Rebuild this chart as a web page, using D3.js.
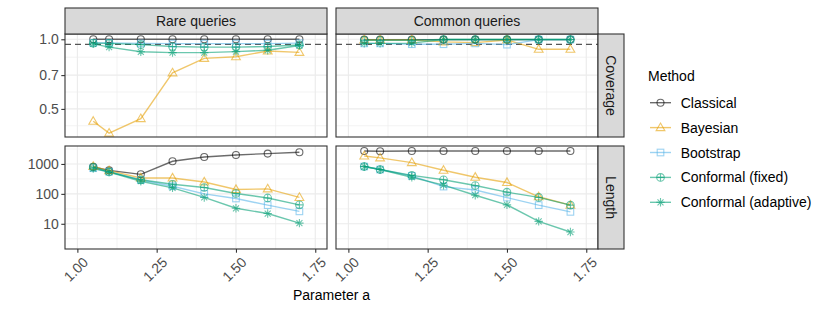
<!DOCTYPE html>
<html>
<head>
<meta charset="utf-8">
<script src="https://cdn.jsdelivr.net/npm/d3@7"></script>
<style>
  body { margin: 0; background: #fff; }
  svg text { font-family: "Liberation Sans", Arial, sans-serif; }
</style>
</head>
<body>
<div id="chart"></div>
<script>
// values
const paramA = [1.05, 1.1, 1.2, 1.3, 1.4, 1.5, 1.6, 1.7];
const methods = ["Classical", "Bayesian", "Bootstrap", "Conformal (fixed)", "Conformal (adaptive)"];
const queryTypes = ["Rare queries", "Common queries"];
const metrics = ["Coverage", "Length"];

// coverage, rare queries
const covRareClassical = [1.0, 1.0, 1.0, 1.0, 1.0, 1.0, 1.0, 1.0];
const covRareBayesian = [0.442, 0.393, 0.454, 0.716, 0.827, 0.84, 0.89, 0.878];
const covRareBootstrap = [0.965, 0.965, 0.96, 0.958, 0.958, 0.958, 0.958, 0.962];
const covRareFixed = [0.962, 0.96, 0.948, 0.93, 0.925, 0.925, 0.93, 0.945];
const covRareAdaptive = [0.955, 0.925, 0.883, 0.876, 0.876, 0.884, 0.896, 0.94];

// coverage, common queries
const covCommonClassical = [0.997, 0.997, 0.997, 0.997, 0.997, 0.997, 0.997, 0.997];
const covCommonBayesian = [0.993, 0.993, 0.993, 0.975, 0.967, 0.993, 0.905, 0.905];
const covCommonBootstrap = [0.96, 0.96, 0.952, 0.952, 0.96, 0.948, 0.997, 0.997];
const covCommonFixed = [0.99, 0.99, 0.99, 0.998, 0.998, 0.998, 0.998, 0.998];
const covCommonAdaptive = [0.96, 0.96, 0.962, 0.998, 0.998, 0.998, 0.998, 0.998];

// interval length, rare queries
const lenRareClassical = [800, 610, 450, 1230, 1710, 2000, 2220, 2450];
const lenRareBayesian = [830, 600, 340, 340, 250, 140, 147, 76];
const lenRareBootstrap = [720, 550, 290, 180, 100, 70, 42, 26];
const lenRareFixed = [780, 540, 295, 210, 163, 103, 73, 43];
const lenRareAdaptive = [700, 540, 265, 158, 76, 33, 22, 10.5];

// interval length, common queries
const lenCommonClassical = [2710, 2650, 2700, 2700, 2700, 2700, 2700, 2700];
const lenCommonBayesian = [1850, 1590, 1110, 615, 360, 240, 80, 42];
const lenCommonBootstrap = [820, 650, 400, 175, 135, 75, 42, 25];
const lenCommonFixed = [820, 650, 415, 295, 190, 114, 76, 42];
const lenCommonAdaptive = [820, 650, 360, 195, 90, 43, 12, 5.3];

const targetCoverage = 0.95;

const xTicks = [1.0, 1.25, 1.5, 1.75];
const coverageTicks = [0.5, 0.7, 1.0];
const lengthTicks = [10, 100, 1000];

const seriesTable = {
  Coverage: {
    "Rare queries": [covRareClassical, covRareBayesian, covRareBootstrap, covRareFixed, covRareAdaptive],
    "Common queries": [covCommonClassical, covCommonBayesian, covCommonBootstrap, covCommonFixed, covCommonAdaptive]
  },
  Length: {
    "Rare queries": [lenRareClassical, lenRareBayesian, lenRareBootstrap, lenRareFixed, lenRareAdaptive],
    "Common queries": [lenCommonClassical, lenCommonBayesian, lenCommonBootstrap, lenCommonFixed, lenCommonAdaptive]
  }
};

const colors = ["#000000", "#E69F00", "#56B4E9", "#009E73", "#009E73"];
const shapes = ["circle", "triangle", "square", "circleplus", "asterisk"];
const alpha = 0.58;

const width = 830, height = 312;
const panelW = 262, panelH = 103;
const colX = [65, 336];
const rowY = [34, 146];
const stripH = 26;

const svg = d3.select("#chart").append("svg")
  .attr("width", width).attr("height", height);

const x = d3.scaleLinear().domain([0.961, 1.787]).range([0, panelW]);
const yScales = {
  Coverage: d3.scaleLog().domain([0.378, 1.054]).range([panelH, 0]),
  Length: d3.scaleLog().domain([Math.pow(10, 0.157), Math.pow(10, 3.6)]).range([panelH, 0])
};
const xMinor = [1.125, 1.375, 1.625];
const yMinor = {
  Coverage: [Math.pow(10, -0.374), Math.pow(10, -0.228), Math.pow(10, -0.0775)],
  Length: [Math.pow(10, 0.5), Math.pow(10, 1.5), Math.pow(10, 2.5), Math.pow(10, 3.5)]
};

function drawShape(g, shape, cx, cy, color) {
  const s = g.append("g").attr("transform", `translate(${cx},${cy})`)
    .attr("fill", "none").attr("stroke", color).attr("stroke-width", 1.1);
  if (shape === "circle") {
    s.append("circle").attr("r", 3.5);
  } else if (shape === "triangle") {
    s.append("path").attr("d", "M0,-4.6L4.4,3L-4.4,3Z");
  } else if (shape === "square") {
    s.append("rect").attr("x", -3.3).attr("y", -3.3).attr("width", 6.6).attr("height", 6.6);
  } else if (shape === "circleplus") {
    s.append("circle").attr("r", 3.8);
    s.append("path").attr("d", "M-3.8,0H3.8M0,-3.8V3.8");
  } else if (shape === "asterisk") {
    s.append("path").attr("d", "M-4.2,0H4.2M0,-4.2V4.2M-3,-3L3,3M-3,3L3,-3");
  }
}

metrics.forEach((metric, ri) => {
  const y = yScales[metric];
  queryTypes.forEach((qt, ci) => {
    const g = svg.append("g").attr("transform", `translate(${colX[ci]},${rowY[ri]})`);
    const clipId = `clip-${ri}-${ci}`;
    g.append("clipPath").attr("id", clipId)
      .append("rect").attr("width", panelW).attr("height", panelH);

    // grid
    const grid = g.append("g");
    grid.selectAll(".xminor").data(xMinor).enter().append("line")
      .attr("x1", d => x(d)).attr("x2", d => x(d)).attr("y1", 0).attr("y2", panelH)
      .attr("stroke", "#EBEBEB").attr("stroke-width", 0.6);
    grid.selectAll(".yminor").data(yMinor[metric]).enter().append("line")
      .attr("x1", 0).attr("x2", panelW).attr("y1", d => y(d)).attr("y2", d => y(d))
      .attr("stroke", "#EBEBEB").attr("stroke-width", 0.6);
    grid.selectAll(".xmajor").data(xTicks).enter().append("line")
      .attr("x1", d => x(d)).attr("x2", d => x(d)).attr("y1", 0).attr("y2", panelH)
      .attr("stroke", "#EBEBEB").attr("stroke-width", 1.1);
    const yt = metric === "Coverage" ? coverageTicks : lengthTicks;
    grid.selectAll(".ymajor").data(yt).enter().append("line")
      .attr("x1", 0).attr("x2", panelW).attr("y1", d => y(d)).attr("y2", d => y(d))
      .attr("stroke", "#EBEBEB").attr("stroke-width", 1.1);

    const data = g.append("g").attr("clip-path", `url(#${clipId})`);

    if (metric === "Coverage") {
      data.append("line")
        .attr("x1", 0).attr("x2", panelW)
        .attr("y1", y(targetCoverage)).attr("y2", y(targetCoverage))
        .attr("stroke", "#555").attr("stroke-width", 1.2)
        .attr("stroke-dasharray", "6,4");
    }

    const line = d3.line().x((d, i) => x(paramA[i])).y(d => y(d));
    const series = seriesTable[metric][qt];
    series.forEach((vals, mi) => {
      data.append("path").datum(vals)
        .attr("d", line)
        .attr("fill", "none")
        .attr("stroke", colors[mi])
        .attr("stroke-opacity", alpha)
        .attr("stroke-width", 1.4);
    });
    series.forEach((vals, mi) => {
      const pg = data.append("g").attr("opacity", alpha);
      vals.forEach((v, i) => drawShape(pg, shapes[mi], x(paramA[i]), y(v), colors[mi]));
    });

    // panel border
    g.append("rect").attr("width", panelW).attr("height", panelH)
      .attr("fill", "none").attr("stroke", "#333").attr("stroke-width", 1.1);

    // top strip
    if (ri === 0) {
      svg.append("rect")
        .attr("x", colX[ci]).attr("y", rowY[0] - stripH)
        .attr("width", panelW).attr("height", stripH)
        .attr("fill", "#D9D9D9").attr("stroke", "#333").attr("stroke-width", 1.1);
      svg.append("text")
        .attr("x", colX[ci] + panelW / 2).attr("y", rowY[0] - stripH / 2)
        .attr("text-anchor", "middle").attr("dominant-baseline", "central")
        .attr("font-size", 14).attr("fill", "#1A1A1A").text(qt);
    }
    // right strip
    if (ci === 1) {
      const sx = colX[1] + panelW;
      svg.append("rect")
        .attr("x", sx).attr("y", rowY[ri])
        .attr("width", stripH).attr("height", panelH)
        .attr("fill", "#D9D9D9").attr("stroke", "#333").attr("stroke-width", 1.1);
      svg.append("text")
        .attr("transform", `translate(${sx + stripH / 2},${rowY[ri] + panelH / 2}) rotate(90)`)
        .attr("text-anchor", "middle").attr("dominant-baseline", "central")
        .attr("font-size", 14).attr("fill", "#1A1A1A").text(metric);
    }

    // y axis on left column
    if (ci === 0) {
      const ya = g.append("g").call(d3.axisLeft(y).tickValues(yt)
        .tickFormat(d => metric === "Coverage" ? d3.format(".1f")(d) : d3.format("d")(d))
        .tickSize(3.7).tickPadding(2.5));
      ya.select(".domain").remove();
      ya.selectAll("line").attr("stroke", "#333").attr("stroke-width", 1.1);
      ya.selectAll("text").attr("font-size", 14).attr("fill", "#4D4D4D")
        .attr("font-family", "Liberation Sans, Arial, sans-serif");
    }

    // x axis on bottom row
    if (ri === 1) {
      const xa = g.append("g").attr("transform", `translate(0,${panelH})`)
        .call(d3.axisBottom(x).tickValues(xTicks).tickFormat(d3.format(".2f")).tickSize(3.7));
      xa.select(".domain").remove();
      xa.selectAll("line").attr("stroke", "#333").attr("stroke-width", 1.1);
      xa.selectAll("text")
        .attr("font-size", 14).attr("fill", "#4D4D4D")
        .attr("font-family", "Liberation Sans, Arial, sans-serif")
        .attr("text-anchor", "end")
        .attr("x", 4).attr("y", 7).attr("dy", "0.72em")
        .attr("transform", "rotate(-45 4 7)");
    }
  });
});

// x axis title
svg.append("text")
  .attr("x", (colX[0] + colX[1] + panelW) / 2).attr("y", 300)
  .attr("text-anchor", "middle").attr("font-size", 14).attr("fill", "#000")
  .text("Parameter a");

// legend
const legend = svg.append("g").attr("transform", "translate(648,0)");
legend.append("text").attr("x", 0).attr("y", 81)
  .attr("font-size", 14).attr("fill", "#000").text("Method");
methods.forEach((m, i) => {
  const ly = 102.7 + i * 24.9;
  legend.append("line").attr("x1", 2).attr("x2", 23).attr("y1", ly).attr("y2", ly)
    .attr("stroke", colors[i]).attr("stroke-opacity", alpha).attr("stroke-width", 1.4);
  const pg = legend.append("g").attr("opacity", alpha);
  drawShape(pg, shapes[i], 12.5, ly, colors[i]);
  legend.append("text").attr("x", 32.7).attr("y", ly)
    .attr("dominant-baseline", "central")
    .attr("font-size", 14).attr("fill", "#000").text(m);
});
</script>
</body>
</html>
